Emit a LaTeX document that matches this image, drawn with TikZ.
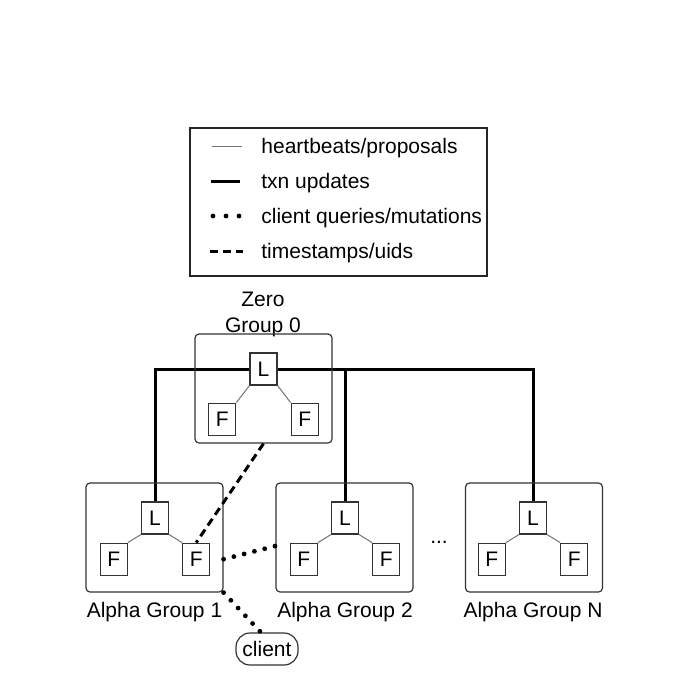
\documentclass[tikz,border=0pt]{standalone}
\usepackage{fontspec}
\setmainfont{Liberation Sans}
\usetikzlibrary{positioning, backgrounds, calc}

\begin{document}
\begin{tikzpicture}[
    x=0.5pt, y=-0.5pt,
    font=\fontsize{10.5}{13}\selectfont,
    group/.style={
        rectangle, draw=black!80, line width=0.6pt, rounded corners=2pt,
        minimum width=68.5pt, minimum height=54.5pt
    },
    role/.style={
        rectangle, draw=black!80, line width=0.6pt, fill=white,
        minimum width=13.5pt, minimum height=16pt, inner sep=0pt
    },
    clientbox/.style={
        rectangle, draw=black!80, line width=0.6pt, rounded corners=7pt,
        minimum width=31pt, minimum height=16pt, inner sep=1pt
    },
    legendbox/.style={
        rectangle, draw=black!85, line width=0.75pt,
        minimum width=148.5pt, minimum height=74pt
    },
    grouplabel/.style={anchor=base, inner sep=0pt},
    legendtext/.style={anchor=base west, inner sep=0pt},
    heartbeat/.style={draw=black!55, line width=0.5pt},
    txn/.style={draw=black, line width=1.5pt},
    query/.style={draw=black, line width=2.4pt, line cap=round, dash pattern=on 0pt off 5.3pt},
    stamp/.style={draw=black, line width=1.5pt, dash pattern=on 4pt off 2.5pt}
]
\useasboundingbox (0,0) rectangle (673,690);

% ---------------- Legend ----------------
\node[legendbox] (legend) at (338.5,202) {};
\node[legendtext] (lg1) at (261,153) {heartbeats/proposals};
\node[legendtext] (lg2) at (261,188) {txn updates};
\node[legendtext] (lg3) at (261,223) {client queries/mutations};
\node[legendtext] (lg4) at (261,258) {timestamps/uids};
\draw[heartbeat] (212,146) -- (242,146);
\draw[txn] (211,181) -- (240,181);
\draw[query, dash pattern=on 0pt off 6.5pt] (213,216) -- (239.5,216);
\draw[stamp] (210,251) -- (243,251);

% ---------------- Zero group ----------------
\node[grouplabel] (zlbl1) at (263,306) {Zero};
\node[grouplabel] (zlbl2) at (263,332) {Group 0};
\node[group] (zero) at (263.5,388.5) {};
\node[role] (zL) at (263.5,369) {L};
\node[role, below left=8.5pt and 6.5pt of zL] (zF1) {F};
\node[role, below right=8.5pt and 6.5pt of zL] (zF2) {F};

% ---------------- Alpha groups ----------------
\node[group] (a1box) at (154.5,537.5) {};
\node[role] (a1L) at (155,518) {L};
\node[role, below left=4pt and 6.5pt of a1L] (a1F1) {F};
\node[role, below right=4pt and 6.5pt of a1L] (a1F2) {F};
\node[grouplabel] (a1lbl) at (154.5,617) {Alpha Group 1};

\node[group] (a2box) at (344.5,537.5) {};
\node[role] (a2L) at (345,518) {L};
\node[role, below left=4pt and 6.5pt of a2L] (a2F1) {F};
\node[role, below right=4pt and 6.5pt of a2L] (a2F2) {F};
\node[grouplabel] (a2lbl) at (345,617) {Alpha Group 2};

\node[grouplabel] (dots) at (439,543) {...};

\node[group] (aNbox) at (534,537.5) {};
\node[role] (aNL) at (533,518) {L};
\node[role, below left=4pt and 6.5pt of aNL] (aNF1) {F};
\node[role, below right=4pt and 6.5pt of aNL] (aNF2) {F};
\node[grouplabel] (aNlbl) at (533,617) {Alpha Group N};

\node[clientbox] (client) at (267,649) {client};

% ---------------- Connections ----------------
\begin{scope}[on background layer]
\draw[txn] (a1L.north) |- (zL.center) -| (aNL.north);
\draw[txn] (a2L.north) |- (zL.center);
\end{scope}

\draw[heartbeat] (zL.south west) -- (zF1.north east);
\draw[heartbeat] (zL.south east) -- (zF2.north west);
\draw[heartbeat] (a1L.south west) -- (a1F1.north east);
\draw[heartbeat] (a1L.south east) -- (a1F2.north west);
\draw[heartbeat] (a2L.south west) -- (a2F1.north east);
\draw[heartbeat] (a2L.south east) -- (a2F2.north west);
\draw[heartbeat] (aNL.south west) -- (aNF1.north east);
\draw[heartbeat] (aNL.south east) -- (aNF2.north west);

\draw[stamp] (zero.south) -- (a1F2.north);
\draw[query] (a1box.east |- a1F2.center) -- (a2box.187);
\draw[query] (a1box.south east) -- (client.110);

\end{tikzpicture}
\end{document}
